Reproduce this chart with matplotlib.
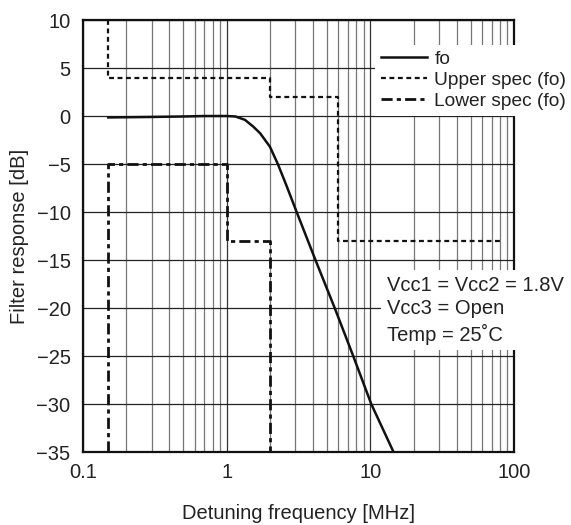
import numpy as np
import matplotlib
matplotlib.use("Agg")
import matplotlib.pyplot as plt
from matplotlib.ticker import LogLocator, NullFormatter

plt.rcParams.update({"font.family": ["Liberation Sans", "DejaVu Sans"], "font.size": 14.5,
                     "axes.unicode_minus": True})

# === Data ===
FO_FREQ = [0.15, 0.3, 0.5, 0.7, 1.0, 1.15, 1.34, 1.53, 1.71, 1.85, 2.0, 2.27, 2.6, 3.07, 4.15, 5.65, 7.6, 10.15, 14.5]
FO_DB = [-0.15, -0.1, -0.05, 0.0, 0.0, -0.05, -0.4, -1.1, -1.8, -2.5, -3.2, -5.0, -7.2, -10.0, -15.0, -20.0, -25.0, -30.0, -35.0]

UPPER_FREQ = [0.15, 0.15, 2.0, 2.0, 6.0, 6.0, 80.0]
UPPER_DB = [10.0, 4.0, 4.0, 2.0, 2.0, -13.0, -13.0]

LOWER_FREQ = [0.15, 0.15, 1.0, 1.0, 2.0, 2.0]
LOWER_DB = [-35.0, -5.0, -5.0, -13.0, -13.0, -35.0]

Y_TICKS = [10, 5, 0, -5, -10, -15, -20, -25, -30, -35]
X_TICKS = [0.1, 1, 10, 100]
X_TICKLABELS = ["0.1", "1", "10", "100"]

fig = plt.figure(figsize=(5.71, 5.25), dpi=100)
W, H = 571, 525
L, R, T, B = 83, 514, 20, 452
ax = fig.add_axes([L / W, 1 - B / H, (R - L) / W, (B - T) / H])

ax.plot(FO_FREQ, FO_DB, color="#111111", lw=1.8, label="fo", zorder=3)
ax.plot(UPPER_FREQ, UPPER_DB, color="#111111", lw=1.6, ls=(0, (2.2, 1.6)), label="Upper spec (fo)", zorder=3)
ax.plot(LOWER_FREQ, LOWER_DB, color="#111111", lw=2.0, ls=(0, (4, 1.5, 1.5, 1.5)), label="Lower spec (fo)", zorder=3)

ax.set_xscale("log")
ax.set_xlim(0.1, 100)
ax.set_ylim(-35, 10)
ax.set_xticks(X_TICKS)
ax.set_xticklabels(X_TICKLABELS)
ax.xaxis.set_minor_locator(LogLocator(base=10, subs=np.arange(2, 10)))
ax.xaxis.set_minor_formatter(NullFormatter())
ax.set_yticks(Y_TICKS)
ax.tick_params(axis="both", which="both", length=0)
ax.tick_params(axis="y", pad=9)
ax.tick_params(axis="x", pad=8)

ax.grid(True, which="major", axis="x", color="#333333", lw=0.9)
ax.grid(True, which="minor", axis="x", color="#777777", lw=0.9)
ax.grid(True, which="major", axis="y", color="#222222", lw=0.9)
ax.set_axisbelow(True)
for s in ax.spines.values():
    s.set_linewidth(1.6)
    s.set_color("#111111")

ax.set_xlabel("Detuning frequency [MHz]", labelpad=16, color="#222222")
ax.set_ylabel("Filter response [dB]", labelpad=5, color="#222222")
for lab in ax.get_xticklabels() + ax.get_yticklabels():
    lab.set_color("#222222")

leg = ax.legend(loc="upper left", bbox_to_anchor=(375 / W, 1 - 45 / H), bbox_transform=fig.transFigure,
                frameon=True, framealpha=1, facecolor="white", edgecolor="none", fancybox=False,
                fontsize=13.8, handlelength=2.4, handletextpad=0.4, labelspacing=0.18,
                borderpad=0.3, borderaxespad=0)
leg.set_zorder(5)
for t in leg.get_texts():
    t.set_color("#222222")

ax.text(387 / W, 1 - 276 / H, "Vcc1 = Vcc2 = 1.8V\nVcc3 = Open\nTemp = 25\u02daC", transform=fig.transFigure,
        ha="left", va="top", color="#222222", linespacing=1.3, zorder=5,
        bbox=dict(facecolor="white", edgecolor="none", pad=4))

fig.savefig("out.png", dpi=100)
